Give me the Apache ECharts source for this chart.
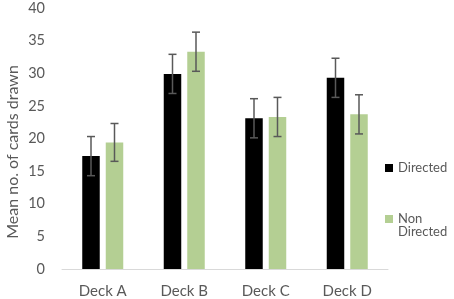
<!DOCTYPE html>
<html><head><meta charset="utf-8">
<script src="https://cdn.jsdelivr.net/npm/echarts@6/dist/echarts.min.js"></script>
<style>html,body{margin:0;padding:0;background:#fff}#c{width:454px;height:299px}</style>
</head><body><div id="c"></div>
<script>
const categories = ['Deck A', 'Deck B', 'Deck C', 'Deck D'];
const directed = [17.3, 29.9, 23.1, 29.3];
const directedErr = [3.0, 3.0, 3.0, 3.0];
const nonDirected = [19.4, 33.3, 23.3, 23.7];
const nonDirectedErr = [2.9, 3.0, 3.0, 3.0];
const yTicks = [0, 5, 10, 15, 20, 25, 30, 35, 40];
const yTitle = 'Mean no. of cards drawn';

const FONT = 'Lato';
const TXT = '#595959';
const BAR_W = 17.5;
const GAP = 6;

function errSeries(vals, errs, offset) {
  return {
    type: 'custom',
    silent: true,
    z: 10,
    data: vals.map((v, i) => [i, v, errs[i]]),
    renderItem: function (params, api) {
      const i = api.value(0), v = api.value(1), e = api.value(2);
      const hi = api.coord([i, v + e]);
      const lo = api.coord([i, v - e]);
      const x = hi[0] + offset;
      const cap = 4;
      const style = { stroke: '#595959', lineWidth: 1.5, fill: null };
      return {
        type: 'group',
        children: [
          { type: 'line', shape: { x1: x, y1: hi[1], x2: x, y2: lo[1] }, style },
          { type: 'line', shape: { x1: x - cap, y1: hi[1], x2: x + cap, y2: hi[1] }, style },
          { type: 'line', shape: { x1: x - cap, y1: lo[1], x2: x + cap, y2: lo[1] }, style }
        ]
      };
    }
  };
}

const chart = echarts.init(document.getElementById('c'), null, { renderer: 'canvas' });
chart.setOption({
  animation: false,
  textStyle: { fontFamily: FONT },
  grid: { left: 62, right: 66, top: 8, bottom: 30, containLabel: false },
  graphic: [{
    type: 'text',
    x: 12.5, y: 152,
    rotation: Math.PI / 2,
    style: {
      text: yTitle, fill: TXT, font: '16px ' + FONT,
      align: 'center', verticalAlign: 'middle'
    }
  }],
  legend: [
    {
      orient: 'vertical', left: 385, top: 161.5, padding: 0,
      itemWidth: 8, itemHeight: 8, icon: 'rect', itemGap: 0,
      data: ['Directed'],
      textStyle: { color: TXT, fontSize: 13, fontFamily: FONT, lineHeight: 13 }
    },
    {
      orient: 'vertical', left: 385, top: 199.5, padding: 0,
      itemWidth: 8, itemHeight: 8, icon: 'rect', itemGap: 0,
      data: ['Non Directed'],
      formatter: function () { return '\nNon\nDirected'; },
      textStyle: { color: TXT, fontSize: 13, fontFamily: FONT, lineHeight: 13 }
    }
  ],
  xAxis: {
    type: 'category',
    data: categories,
    axisLine: { lineStyle: { color: '#d9d9d9', width: 1 } },
    axisTick: { show: false },
    axisLabel: { color: TXT, fontSize: 15, fontFamily: FONT, margin: 15 }
  },
  yAxis: {
    type: 'value',
    min: 0, max: 40, interval: 5,
    axisLine: { show: false },
    axisTick: { show: false },
    splitLine: { show: false },
    axisLabel: {
      color: TXT, fontSize: 14.5, fontFamily: FONT, margin: 17,
      formatter: function (v) { return yTicks.indexOf(v) >= 0 ? String(v) : ''; }
    }
  },
  series: [
    {
      name: 'Directed', type: 'bar', data: directed,
      barWidth: BAR_W, barGap: (GAP / BAR_W * 100).toFixed(1) + '%',
      itemStyle: { color: '#000000' }
    },
    {
      name: 'Non Directed', type: 'bar', data: nonDirected,
      barWidth: BAR_W,
      itemStyle: { color: '#b4cf93' }
    },
    errSeries(directed, directedErr, -(BAR_W + GAP) / 2),
    errSeries(nonDirected, nonDirectedErr, (BAR_W + GAP) / 2)
  ]
});
</script>
</body></html>
